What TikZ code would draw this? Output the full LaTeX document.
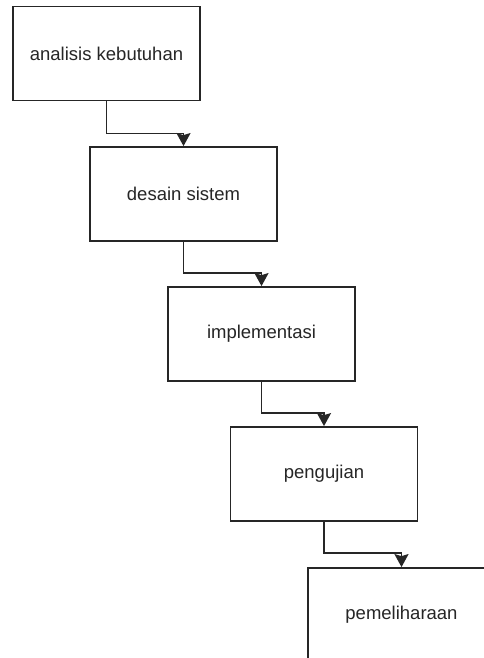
\documentclass[tikz,border=0pt]{standalone}
\usepackage{fontspec}
\setmainfont{Liberation Sans}
\usetikzlibrary{arrows.meta}
\begin{document}
\begin{tikzpicture}[x=1pt,y=-1pt,
  stage/.style={draw=black!85, line width=1.8pt, fill=white, minimum width=187pt,
    minimum height=94pt, inner sep=0pt, font=\fontsize{18.5}{21}\selectfont, text=black!85},
  flow/.style={draw=black!85, line width=1.8pt,
    -{Stealth[length=13pt,width=14pt,inset=2pt]}}]
  \useasboundingbox (0,0) rectangle (484,658);
  \clip (0,0) rectangle (484,658);
  % waterfall stages
  \node[stage] (s1) at (106.5,53.5) {analisis kebutuhan};
  \node[stage] (s2) at (183.5,194) {desain sistem};
  \node[stage] (s3) at (261.5,334) {implementasi};
  \node[stage] (s4) at (324,474) {pengujian};
  \node[stage] (s5) at (401.5,615) {pemeliharaan};
  % step-down connectors
  \draw[flow] (s1.south) -- ++(0,32) -| (s2.north);
  \draw[flow] (s2.south) -- ++(0,31) -| (s3.north);
  \draw[flow] (s3.south) -- ++(0,31) -| (s4.north);
  \draw[flow] (s4.south) -- ++(0,31) -| (s5.north);
\end{tikzpicture}
\end{document}
